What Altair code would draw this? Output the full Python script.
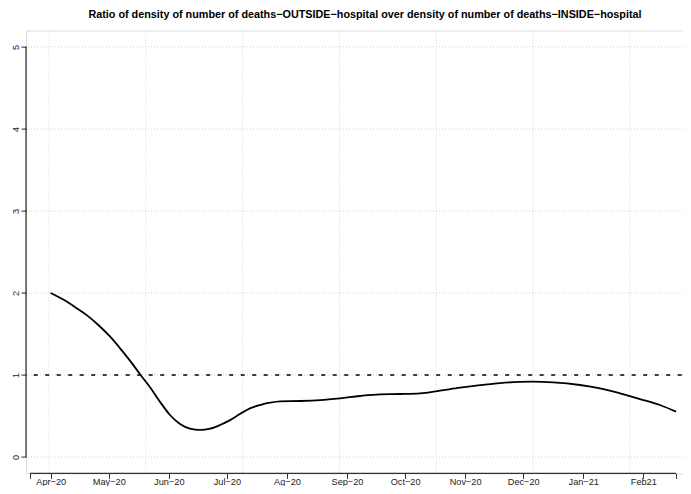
import altair as alt
import pandas as pd

# ---- data (x = days since 1 Apr 2020) ----
days = [0, 6.5, 12.5, 18.6, 24.6, 30.6, 36.7, 42.7, 46.1, 51.3, 56.4, 61.6, 66.8,
        71.9, 77.1, 82.3, 87.4, 92.6, 97.7, 102.9, 108.1, 113.2, 118.4, 128.7,
        139.1, 149.4, 159.7, 170.0, 180.4, 190.7, 201.0, 211.4, 221.7, 232.0,
        242.3, 249.0, 259.4, 273.3, 283.6, 294.0, 304.3, 314.6, 322.9]
ratio = [2.00, 1.92, 1.83, 1.73, 1.61, 1.47, 1.30, 1.12, 1.01, 0.85, 0.675, 0.512,
         0.402, 0.345, 0.33, 0.345, 0.39, 0.45, 0.524, 0.593, 0.634, 0.662, 0.679,
         0.683, 0.693, 0.715, 0.744, 0.764, 0.768, 0.776, 0.809, 0.845, 0.876,
         0.902, 0.915, 0.918, 0.91, 0.878, 0.837, 0.776, 0.707, 0.634, 0.553]

month_ticks = [-10.7, 0, 30, 61, 91, 122, 153, 183, 214, 244, 275, 306, 322.9]
month_labels = ["", "Apr−20", "May−20", "Jun−20", "Jul−20", "Ag−20", "Sep−20",
                "Oct−20", "Nov−20", "Dec−20", "Jan−21", "Feb21", ""]
y_ticks = [0, 1, 2, 3, 4, 5]
x_grid = [-0.9, 49.1, 99.1, 149.1, 199.1, 249.1, 299.1]
ref_level = [1]

title_text = ("Ratio of density of number of deaths\u2212OUTSIDE\u2212hospital over "
              "density of number of deaths\u2212INSIDE\u2212hospital")

FONT = "Liberation Sans"
X_DOMAIN = [-12.75, 326.5]
Y_DOMAIN = [-0.2, 5.2]

label_expr = "[" + ",".join("'" + s + "'" for s in month_labels) + "][indexof([" + \
    ",".join(str(v) for v in month_ticks) + "], datum.value)]"

x_axis = alt.Axis(values=month_ticks, labelExpr=label_expr, domain=False, grid=False,
                  tickSize=5, tickColor="#333", tickWidth=1, labelFont=FONT,
                  labelFontSize=9.2, labelColor="#222", labelBaseline="alphabetic",
                  labelPadding=5.6, labelFlush=False, labelOverlap=False, title=None)
y_axis = alt.Axis(values=y_ticks, domain=False, grid=False, tickSize=5, tickColor="#222",
                  labelAngle=270, labelAlign="center", labelBaseline="alphabetic",
                  labelFont=FONT, labelFontSize=9.2, labelColor="#222", labelPadding=3,
                  labelFlush=False, labelOverlap=False, title=None)

xs = alt.Scale(domain=X_DOMAIN, nice=False, zero=False)
ys = alt.Scale(domain=Y_DOMAIN, nice=False, zero=False)


def X(field):
    return alt.X(field, type="quantitative", scale=xs, axis=x_axis)


def Y(field):
    return alt.Y(field, type="quantitative", scale=ys, axis=y_axis)


curve_df = pd.DataFrame({"day": days, "ratio": ratio})
vgrid_df = pd.DataFrame({"day": x_grid})
hgrid_df = pd.DataFrame({"ratio": y_ticks})
ref_df = pd.DataFrame({"ratio": ref_level})
yaxis_df = pd.DataFrame({"day": [X_DOMAIN[0]], "ratio": [y_ticks[0]], "ratio2": [y_ticks[-1]]})
xaxis_df = pd.DataFrame({"day": [month_ticks[0]], "day2": [month_ticks[-1]], "ratio": [Y_DOMAIN[0]]})

vgrid = alt.Chart(vgrid_df).mark_rule(color="#d3d3d3", strokeWidth=1, strokeDash=[1, 2]).encode(
    x=X("day"))
hgrid = alt.Chart(hgrid_df).mark_rule(color="#d3d3d3", strokeWidth=1, strokeDash=[1, 2]).encode(
    y=Y("ratio"))
ref = alt.Chart(ref_df).mark_rule(color="black", strokeWidth=1.4, strokeDash=[4, 7.5],
                                  strokeDashOffset=-1.3).encode(y=Y("ratio"))
curve = alt.Chart(curve_df).mark_line(color="black", strokeWidth=1.8,
                                      interpolate="monotone").encode(x=X("day"), y=Y("ratio"))
yline = alt.Chart(yaxis_df).mark_rule(color="black", strokeWidth=1).encode(
    x=X("day"), y=Y("ratio"), y2="ratio2")
xline = alt.Chart(xaxis_df).mark_rule(color="#333", strokeWidth=1.2).encode(
    x=X("day"), x2="day2", y=Y("ratio"))

chart = alt.layer(vgrid, hgrid, ref, curve, yline, xline).properties(
    width=657,
    height=442.8,
    title=alt.TitleParams(text=title_text, font=FONT, fontSize=10.8, fontWeight="bold",
                          color="black", anchor="middle", dx=10.5, offset=1.8,
                          baseline="alphabetic"),
    autosize=alt.AutoSizeParams(type="none"),
    padding={"left": 18, "top": 22.6, "right": 0, "bottom": 12.6},
).configure_view(stroke=None).configure(background="white")

chart.save("out.html", embed_options={"renderer": "svg", "actions": False})
